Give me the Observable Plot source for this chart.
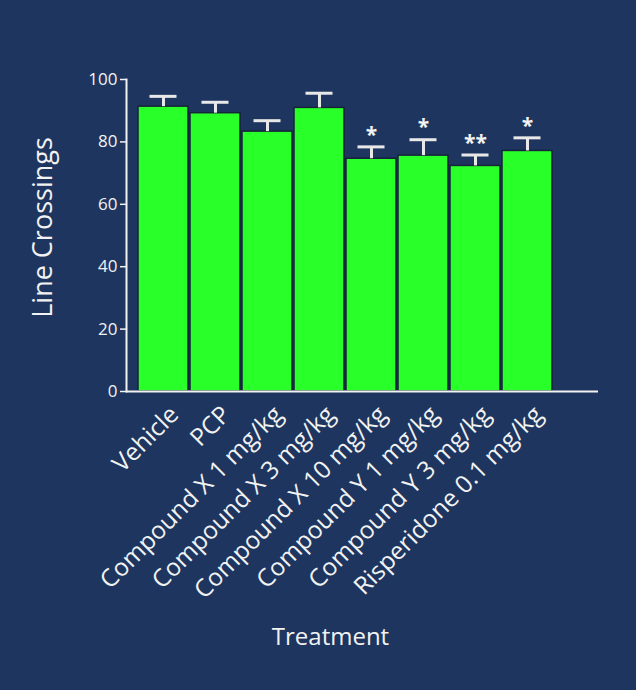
<!DOCTYPE html>
<html>
<head>
<meta charset="utf-8">
<script src="https://cdn.jsdelivr.net/npm/d3@7"></script>
<script src="https://cdn.jsdelivr.net/npm/@observablehq/plot@0.6"></script>
<style>
  html, body { margin: 0; padding: 0; background: #1e365f; }
  #chart { width: 636px; height: 690px; }
</style>
</head>
<body>
<div id="chart"></div>
<script>
const categories = ["Vehicle", "PCP", "Compound X 1 mg/kg", "Compound X 3 mg/kg", "Compound X 10 mg/kg", "Compound Y 1 mg/kg", "Compound Y 3 mg/kg", "Risperidone 0.1 mg/kg"];
const means = [91.3, 89.2, 83.3, 90.9, 74.6, 75.6, 72.3, 77.1];
const upper = [94.6, 92.7, 86.8, 95.6, 78.4, 80.7, 75.8, 81.3];
const significance = ["", "", "", "", "*", "*", "**", "*"];
const yTicks = [0, 20, 40, 60, 80, 100];

const data = categories.map((c, i) => ({category: c, mean: means[i], upper: upper[i], sig: significance[i]}));

const fg = "#f2f2f2";
const font = "'Open Sans', 'Noto Sans', sans-serif";

const chart = Plot.plot({
  width: 636,
  height: 690,
  marginLeft: 126,
  marginRight: 38,
  marginTop: 79,
  marginBottom: 299,
  style: {background: "#1e365f", color: fg, fontFamily: font},
  x: {type: "band", domain: categories, range: [136, 554], paddingInner: 0.04, paddingOuter: 0.02, axis: null},
  y: {domain: [0, 100], axis: null},
  marks: [
    Plot.barY(data, {x: "category", y: "mean", fill: "#29ff29", stroke: "#16233a", strokeWidth: 1.5}),
    Plot.ruleX(data, {x: "category", y1: "mean", y2: "upper", stroke: "#e8e8e8", strokeWidth: 3}),
    Plot.tickY(data, {x: "category", y: "upper", stroke: "#e8e8e8", strokeWidth: 3, insetLeft: 11.5, insetRight: 11.5}),
    Plot.text(data, {x: "category", y: "upper", text: "sig", dy: -12, fontSize: 21, fontWeight: "bold", fill: fg, lineAnchor: "middle"}),
    Plot.axisY({ticks: yTicks, tickSize: 6, tickPadding: 3, fontSize: 17, stroke: fg, strokeWidth: 1.5, fill: fg, label: null}),
    Plot.frame({anchor: "left", stroke: fg, strokeWidth: 2}),
    Plot.ruleY([0], {stroke: fg, strokeWidth: 2}),
    Plot.text(categories, {x: d => d, frameAnchor: "bottom", rotate: -45, textAnchor: "end", lineAnchor: "middle", dx: 11, dy: 19, fontSize: 24.5, fill: fg}),
    Plot.text(["Line Crossings"], {frameAnchor: "left", textAnchor: "middle", rotate: -90, dx: -83, dy: -8, fontSize: 27, fill: fg}),
    Plot.text(["Treatment"], {frameAnchor: "bottom", textAnchor: "middle", dx: -32, dy: 253, fontSize: 24, fill: fg})
  ]
});
document.getElementById("chart").appendChild(chart);
</script>
</body>
</html>
